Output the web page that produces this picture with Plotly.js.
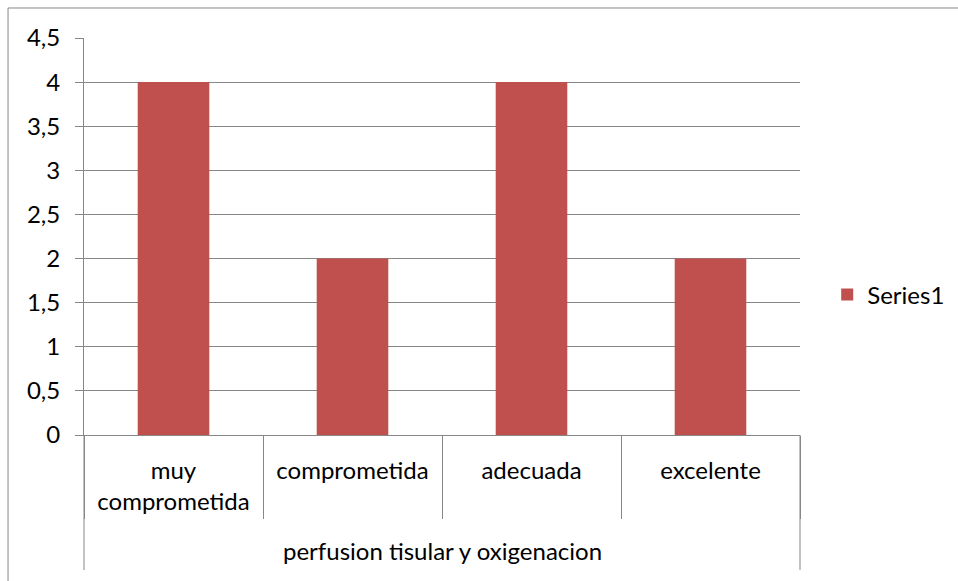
<!DOCTYPE html>
<html>
<head>
<meta charset="utf-8">
<script src="https://cdn.plot.ly/plotly-3.0.1.min.js"></script>
<style>
  html, body { margin: 0; padding: 0; background: #ffffff; }
  #chart { width: 958px; height: 581px; }
</style>
</head>
<body>
<div id="chart"></div>
<script>
// Evaluation of tissue perfusion and oxygenation
const categories = ['muy<br>comprometida', 'comprometida', 'adecuada', 'excelente'];
const values = [4, 2, 4, 2];
const seriesName = 'Series1';
const groupLabel = 'perfusion tisular y oxigenacion';
const yTicks = [0, 0.5, 1, 1.5, 2, 2.5, 3, 3.5, 4, 4.5];

const axisGray = '#878787';
const barRed = '#C0504D';
const fontFamily = 'Lato, "Open Sans", sans-serif';
const fontSize = 24;

const trace = {
  type: 'bar',
  x: categories,
  y: values,
  name: seriesName,
  marker: { color: barRed },
  width: 0.4,
  showlegend: true,
  hoverinfo: 'x+y'
};

const layout = {
  width: 958,
  height: 581,
  margin: { l: 84, r: 158, t: 38, b: 146, autoexpand: false },
  paper_bgcolor: '#ffffff',
  plot_bgcolor: '#ffffff',
  separators: ', ',
  font: { family: fontFamily, size: fontSize, color: '#000000' },
  showlegend: true,
  legend: {
    x: 1.038, xanchor: 'left',
    y: 0.353, yanchor: 'middle',
    font: { family: fontFamily, size: fontSize, color: '#000000' },
    bgcolor: 'rgba(0,0,0,0)'
  },
  xaxis: {
    type: 'category',
    showline: true,
    linecolor: axisGray,
    linewidth: 1,
    ticks: 'outside',
    tickson: 'boundaries',
    ticklen: 83,
    tickcolor: axisGray,
    tickwidth: 1,
    ticklabelstandoff: 14,
    showgrid: false,
    tickfont: { family: fontFamily, size: fontSize, color: '#000000' },
    automargin: false
  },
  yaxis: {
    range: [0, 4.5],
    tickvals: yTicks,
    showline: true,
    linecolor: axisGray,
    linewidth: 1,
    ticks: 'outside',
    ticklen: 8,
    tickcolor: axisGray,
    tickwidth: 1,
    ticklabelstandoff: 10,
    showgrid: true,
    gridcolor: axisGray,
    gridwidth: 1,
    zeroline: false,
    tickformat: ',.1~f',
    tickfont: { family: fontFamily, size: fontSize, color: '#000000' },
    automargin: false
  },
  shapes: [
    // outer chart border
    { type: 'rect', xref: 'paper', yref: 'paper',
      x0: -0.1061, x1: 1.4, y0: 1.0756, y1: -0.6,
      line: { color: axisGray, width: 1 }, fillcolor: 'rgba(0,0,0,0)', layer: 'below' },
    // group bracket sides
    { type: 'line', xref: 'paper', yref: 'paper', x0: 0, x1: 0, y0: 0, y1: -0.34,
      line: { color: axisGray, width: 1 } },
    { type: 'line', xref: 'paper', yref: 'paper', x0: 1, x1: 1, y0: 0, y1: -0.34,
      line: { color: axisGray, width: 1 } }
  ],
  annotations: [
    { text: groupLabel, xref: 'paper', yref: 'paper', x: 0.5, y: -0.292,
      xanchor: 'center', yanchor: 'middle', showarrow: false,
      font: { family: fontFamily, size: fontSize, color: '#000000' } }
  ]
};

Plotly.newPlot('chart', [trace], layout, { displayModeBar: false, staticPlot: true });
</script>
</body>
</html>
